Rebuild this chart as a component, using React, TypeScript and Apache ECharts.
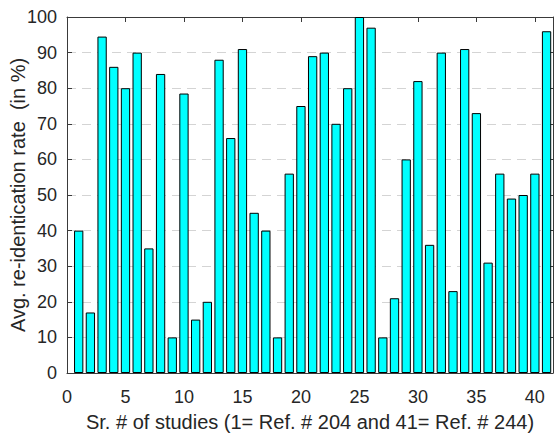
import React, { useEffect, useRef } from "react";
import * as echarts from "echarts";

const studies: number[] = Array.from({ length: 41 }, (_, i) => i + 1);
const rates: number[] = [
  40, 17, 94.5, 86, 80, 90, 35, 84, 10, 78.5,
  15, 20, 88, 66, 91, 45, 40, 10, 56, 75,
  89, 90, 70, 80, 100, 97, 10, 21, 60, 82,
  36, 90, 23, 91, 73, 31, 56, 49, 50, 56,
  96,
];
const xTitle = "Sr. # of studies (1= Ref. # 204 and 41= Ref. # 244)";
const yTitle = "Avg. re-identication rate  (in %)";

export default function App() {
  const ref = useRef<HTMLDivElement>(null);
  useEffect(() => {
    if (!ref.current) return;
    const chart = echarts.init(ref.current, undefined, { renderer: "svg" });
    const font = "Liberation Sans, Arial, sans-serif";
    const textColor = "#262626";
    const lineStyle = { color: "#3a3a3a", width: 1 };
    chart.setOption({
      animation: false,
      backgroundColor: "#fff",
      grid: {
        left: 67,
        right: 5,
        top: 17,
        bottom: 62,
        containLabel: false,
        outerBoundsMode: "none",
      },
      xAxis: [
        {
          type: "value",
          min: 0,
          max: 41.55,
          interval: 5,
          position: "bottom",
          axisLine: { show: true, onZero: false, lineStyle },
          axisTick: { show: true, inside: true, length: 5, lineStyle },
          axisLabel: {
            fontFamily: font,
            fontSize: 18,
            color: textColor,
            margin: 15,
            showMaxLabel: false,
          },
          splitLine: { show: false },
          name: xTitle,
          nameLocation: "middle",
          nameGap: 39,
          nameMoveOverlap: false,
          nameTextStyle: { fontFamily: font, fontSize: 20, color: textColor },
        },
        {
          type: "value",
          min: 0,
          max: 41.55,
          interval: 5,
          position: "top",
          axisLine: { show: true, onZero: false, lineStyle },
          axisTick: { show: true, inside: true, length: 5, lineStyle },
          axisLabel: { show: false },
          splitLine: { show: false },
        },
      ],
      yAxis: [
        {
          type: "value",
          min: 0,
          max: 100,
          interval: 10,
          position: "left",
          axisLine: { show: true, onZero: false, lineStyle },
          axisTick: { show: true, inside: true, length: 5, lineStyle },
          axisLabel: {
            fontFamily: font,
            fontSize: 18,
            color: textColor,
            margin: 10,
          },
          splitLine: {
            show: true,
            lineStyle: { color: "#d4d4d4", type: [9, 6], width: 1 },
          },
          name: yTitle,
          nameLocation: "middle",
          nameGap: 39,
          nameMoveOverlap: false,
          nameTextStyle: { fontFamily: font, fontSize: 20, color: textColor },
        },
        {
          type: "value",
          min: 0,
          max: 100,
          interval: 10,
          position: "right",
          axisLine: { show: true, onZero: false, lineStyle },
          axisTick: { show: true, inside: true, length: 5, lineStyle },
          axisLabel: { show: false },
          splitLine: { show: false },
        },
      ],
      series: [
        {
          type: "bar",
          xAxisIndex: 0,
          yAxisIndex: 0,
          barWidth: 9.3,
          data: studies.map((s, i) => [s, rates[i]]),
          itemStyle: { color: "#00ffff", borderColor: "#000", borderWidth: 1 },
        },
      ],
    });
    return () => chart.dispose();
  }, []);
  return (
    <div
      ref={ref}
      style={{ position: "fixed", left: 0, top: 0, width: 558, height: 435 }}
    />
  );
}
